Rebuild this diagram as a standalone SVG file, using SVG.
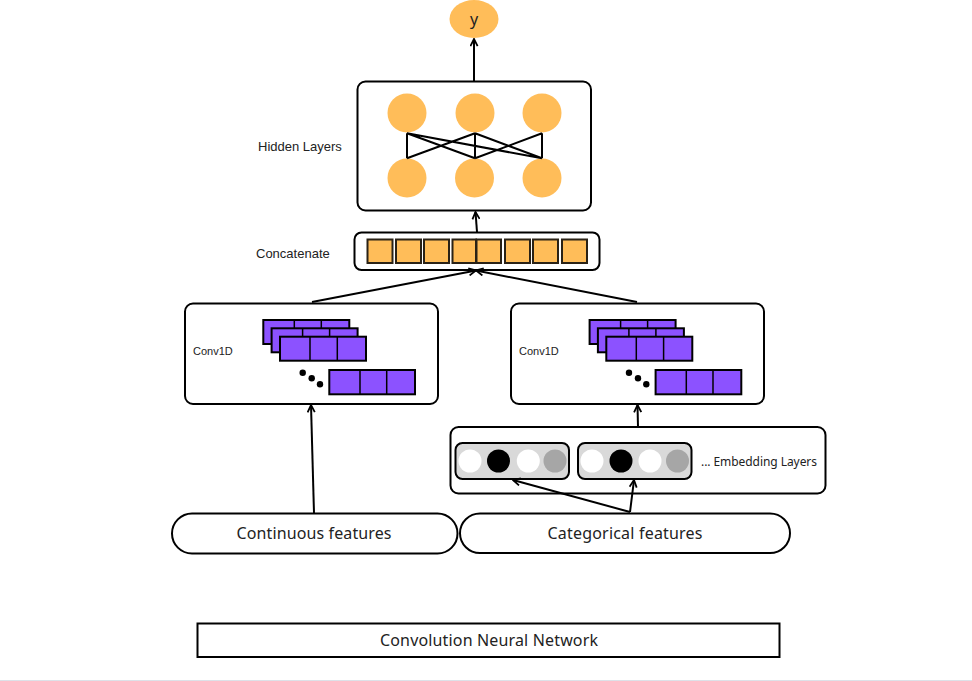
<svg xmlns="http://www.w3.org/2000/svg" width="972" height="681" viewBox="0 0 972 681">
<style>
.box{fill:#fff;stroke:#000;stroke-width:2}
.pill{fill:#fff;stroke:#000;stroke-width:2}
.org{fill:#ffbd59}
.sq{fill:#ffbd59;stroke:#2a2216;stroke-width:2}
.pur{fill:#8c52ff;stroke:#000;stroke-width:2}
.div{stroke:#000;stroke-width:1.5}
.emb{fill:#d9d9d9;stroke:#000;stroke-width:2}
.conn{stroke:#000;stroke-width:2;fill:none}
.nn{stroke:#000;stroke-width:2;fill:none}
.lbl{font-family:"Noto Sans","Liberation Sans",sans-serif;fill:#222}
.sm{font-family:"Liberation Sans",Arial,sans-serif;fill:#222;font-size:12px}
</style>
<defs>
<marker id="arr" viewBox="0 0 10 10" refX="9" refY="5" markerWidth="9" markerHeight="9" markerUnits="userSpaceOnUse" orient="auto">
<path d="M1,1 L9,5 L1,9" fill="none" stroke="#000" stroke-width="2"/>
</marker>
<g id="stack">
<rect class="pur" x="0" y="0" width="86" height="24"/>
<line class="div" x1="31" y1="0" x2="31" y2="24"/><line class="div" x1="58" y1="0" x2="58" y2="24"/>
<rect class="pur" x="8.3" y="8.3" width="86" height="24"/>
<line class="div" x1="39.3" y1="8.3" x2="39.3" y2="32.3"/><line class="div" x1="66.3" y1="8.3" x2="66.3" y2="32.3"/>
<rect class="pur" x="16.7" y="16.7" width="86" height="24"/>
<line class="div" x1="46.7" y1="16.7" x2="46.7" y2="40.7"/><line class="div" x1="74" y1="16.7" x2="74" y2="40.7"/>
<circle cx="39.4" cy="52.7" r="3.2" fill="#000"/>
<circle cx="48.4" cy="58.3" r="3.2" fill="#000"/>
<circle cx="56.7" cy="64.3" r="3.2" fill="#000"/>
<rect class="pur" x="66" y="50" width="85.7" height="24.3"/>
<line class="div" x1="96.7" y1="50" x2="96.7" y2="74.3"/><line class="div" x1="123.4" y1="50" x2="123.4" y2="74.3"/>
</g>
</defs>
<rect x="0" y="0" width="972" height="681" fill="#fff"/>
<line x1="0" y1="680.5" x2="972" y2="680.5" stroke="#dde1e8" stroke-width="1"/>

<g id="output-y">
<ellipse class="org" cx="474" cy="19" rx="24.5" ry="19"/>
<text class="lbl" x="474" y="25" font-size="16" text-anchor="middle">y</text>
</g>

<g id="hidden-layers">
<rect class="box" x="357.5" y="81.5" width="233.5" height="129" rx="8"/>
<circle class="org" cx="407" cy="113" r="19.5"/>
<circle class="org" cx="475" cy="113" r="19.5"/>
<circle class="org" cx="542" cy="113" r="19.5"/>
<circle class="org" cx="407" cy="178" r="19.5"/>
<circle class="org" cx="474.5" cy="178" r="19.5"/>
<circle class="org" cx="542" cy="178" r="19.5"/>
<path class="nn" d="M407,133.3 V158.3 M475,133.3 V158.3 M542,133.3 V158.3 M407,133.3 L475,158.3 M407,133.3 L542,158.3 M475,133.3 L407,158.3 M475,133.3 L542,158.3 M542,133.3 L475,158.3"/>
<text class="sm" x="258" y="151" style="font-size:13px">Hidden Layers</text>
</g>

<g id="concatenate">
<rect class="box" x="354.5" y="232.5" width="245" height="37.5" rx="7"/>
<rect class="sq" x="367.5" y="239.5" width="25" height="23.5"/>
<rect class="sq" x="396" y="239.5" width="25" height="23.5"/>
<rect class="sq" x="424" y="239.5" width="25" height="23.5"/>
<rect class="sq" x="452.5" y="239.5" width="23.5" height="23.5"/>
<rect class="sq" x="476.5" y="239.5" width="24.5" height="23.5"/>
<rect class="sq" x="505" y="239.5" width="25" height="23.5"/>
<rect class="sq" x="533" y="239.5" width="25" height="23.5"/>
<rect class="sq" x="562" y="239.5" width="25" height="23.5"/>
<text class="sm" x="256" y="258" style="font-size:13px">Concatenate</text>
</g>

<g id="conv1d-left">
<rect class="box" x="185" y="303.5" width="253" height="100.5" rx="8"/>
<use href="#stack" x="263.3" y="320"/>
<text class="sm" x="193" y="355" style="font-size:11px">Conv1D</text>
</g>

<g id="conv1d-right">
<rect class="box" x="511" y="303.5" width="253" height="100.5" rx="8"/>
<use href="#stack" x="589.6" y="320"/>
<text class="sm" x="519" y="355" style="font-size:11px">Conv1D</text>
</g>

<g id="embedding-layers">
<rect class="box" x="450.5" y="427" width="375" height="66.5" rx="8"/>
<rect class="emb" x="455.5" y="443" width="113.5" height="36" rx="7"/>
<circle cx="470" cy="461" r="11.5" fill="#fff"/>
<circle cx="498.5" cy="461" r="11.5" fill="#000"/>
<circle cx="528.3" cy="461" r="11.5" fill="#fff"/>
<circle cx="555" cy="461" r="11.5" fill="#a6a6a6"/>
<rect class="emb" x="578" y="443" width="113.5" height="36" rx="7"/>
<circle cx="592" cy="461" r="11.5" fill="#fff"/>
<circle cx="621" cy="461" r="11.5" fill="#000"/>
<circle cx="650" cy="461" r="11.5" fill="#fff"/>
<circle cx="677.5" cy="461" r="11.5" fill="#a6a6a6"/>
<text class="lbl" x="701" y="465.5" font-size="12" textLength="116">... Embedding Layers</text>
</g>

<g id="continuous-features">
<rect class="pill" x="172" y="513.5" width="285.5" height="40" rx="20"/>
<text class="lbl" x="314" y="539" font-size="16" text-anchor="middle" textLength="155">Continuous features</text>
</g>

<g id="categorical-features">
<rect class="pill" x="460" y="513.5" width="330" height="39.5" rx="20"/>
<text class="lbl" x="625" y="539" font-size="16" text-anchor="middle" textLength="155">Categorical features</text>
</g>

<g id="title">
<rect class="box" x="197.5" y="623.5" width="582" height="33.5"/>
<text class="lbl" x="489" y="645.5" font-size="16" text-anchor="middle" textLength="218">Convolution Neural Network</text>
</g>

<g id="connectors">
<line class="conn" x1="474" y1="81" x2="474" y2="39" marker-end="url(#arr)"/>
<line class="conn" x1="477" y1="232" x2="475.5" y2="212" marker-end="url(#arr)"/>
<line class="conn" x1="312" y1="302" x2="476" y2="270.5" marker-end="url(#arr)"/>
<line class="conn" x1="637" y1="302" x2="476" y2="270.5" marker-end="url(#arr)"/>
<line class="conn" x1="314" y1="513" x2="311" y2="405" marker-end="url(#arr)"/>
<line class="conn" x1="638" y1="427" x2="637.5" y2="405" marker-end="url(#arr)"/>
<line class="conn" x1="630" y1="512" x2="513" y2="480" marker-end="url(#arr)"/>
<line class="conn" x1="630" y1="512" x2="634" y2="480" marker-end="url(#arr)"/>
</g>
</svg>
